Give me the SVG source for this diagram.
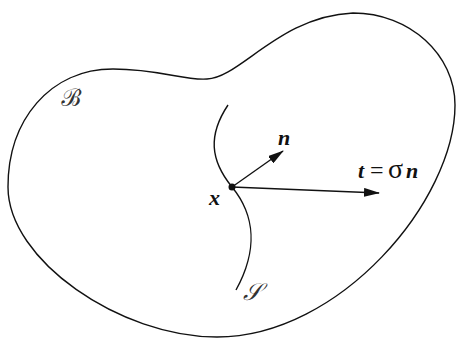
<svg xmlns="http://www.w3.org/2000/svg" width="457" height="338" viewBox="0 0 457 338">
<style>
.ln{fill:none;stroke:#111;stroke-width:1.4}
.lbl{font-family:"Liberation Serif","DejaVu Serif",serif;fill:#111}
.bi{font-weight:bold;font-style:italic}
.scr{font-family:"DejaVu Serif","Noto Sans",serif;font-style:italic;fill:#333}
</style>
<defs>
<marker id="ah" viewBox="0 0 16 9" refX="15" refY="4.5" markerWidth="16" markerHeight="9" markerUnits="userSpaceOnUse" orient="auto">
<path d="M0,0 L16,4.5 L0,9 Z" fill="#111"/>
</marker>
</defs>
<rect width="457" height="338" fill="#fff"/>
<g id="body">
<path class="ln" d="M8,187 C8,120 50,69 113,69 C160,69 185,81 207,79 C240,78 280,16 353,13 C410,13 455,55 455,105 C455,200 340,337 217,337 C120,337 8,260 8,187 Z"/>
<text class="scr" x="61" y="106" font-size="24">ℬ</text>
</g>
<g id="surface">
<path class="ln" d="M228,105 C208,135 210,160 232,187 C255,215 258,250 236,290"/>
<text class="scr" x="243" y="300" font-size="24">𝒮</text>
</g>
<g id="point">
<circle cx="232" cy="187" r="3.5" fill="#111"/>
<text class="lbl bi" x="209" y="205" font-size="22">x</text>
</g>
<g id="connectors">
<line class="ln" x1="232" y1="187" x2="283" y2="151" marker-end="url(#ah)"/>
<line class="ln" x1="232" y1="187" x2="379" y2="193" marker-end="url(#ah)"/>
</g>
<g id="labels">
<text class="lbl bi" x="278" y="145" font-size="22">n</text>
<text class="lbl" y="178" font-size="22"><tspan class="bi" x="358">t</tspan><tspan x="370" font-size="24">=</tspan><tspan x="388" font-size="28">σ</tspan><tspan class="bi" x="406">n</tspan></text>
</g>
</svg>
